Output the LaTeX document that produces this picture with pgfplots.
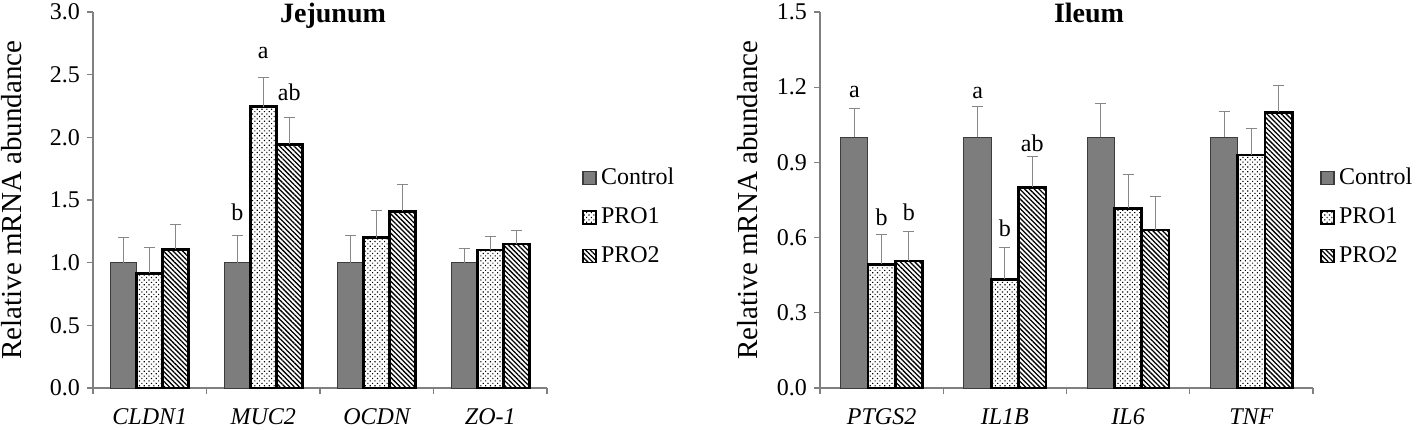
\documentclass[border=0pt]{standalone}
\usepackage{fontspec}
\setmainfont{Liberation Serif}
\usepackage{pgfplots}
\usepackage{pgfplotstable}
\pgfplotsset{compat=1.18}
\usetikzlibrary{patterns.meta}
\definecolor{ctrl}{RGB}{125,125,125}
\definecolor{ctrlborder}{RGB}{60,60,60}
\definecolor{axgray}{RGB}{128,128,128}
\definecolor{errgray}{RGB}{135,135,135}

\pgfplotstableread{
x c ce p pe q qe
0 1.00 0.20 0.915 0.205 1.107 0.200
1 1.00 0.22 2.245 0.230 1.945 0.215
2 1.00 0.22 1.200 0.220 1.410 0.210
3 1.00 0.11 1.100 0.110 1.150 0.110
}\jej

\pgfplotstableread{
x c ce p pe q qe
0 1.00 0.115 0.493 0.120 0.507 0.116
1 1.00 0.125 0.434 0.126 0.800 0.123
2 1.00 0.135 0.717 0.136 0.630 0.135
3 1.00 0.105 0.930 0.105 1.100 0.105
}\ile

\pgfplotsset{
 myaxis/.style={
  scale only axis, height=188pt, ymin=0, clip=false,
  xmin=-0.5, xmax=3.5,
  ybar=0pt,
  axis lines*=left,
  axis line style={axgray, line width=0.6pt},
  xtick={0,1,2,3}, minor xtick={-0.5,0.5,1.5,2.5,3.5},
  major x tick style={draw=none},
  minor x tick style={axgray, line width=0.6pt},
  y tick style={axgray, line width=0.6pt},
  tick align=outside, major tick length=3pt, minor tick length=3pt,
  xticklabel style={font=\fontsize{12}{14}\selectfont\itshape, yshift=-4pt},
  yticklabel style={font=\fontsize{12}{14}\selectfont},
  /pgf/number format/assume math mode=true,
  yticklabel={\pgfmathprintnumber[fixed,fixed zerofill,precision=1]{\tick}},
  ylabel={Relative mRNA abundance},
  legend style={draw=none, fill=none, font=\fontsize{12}{14}\selectfont, anchor=west, row sep=6pt, inner sep=0pt},
  legend cell align=left,
  legend image code/.code={\draw[##1, line width=0.8pt] (0pt,-3.25pt) rectangle (6.5pt,3.25pt);},
  error bars/y dir=plus, error bars/y explicit,
  error bars/error mark=|,
  error bars/error bar style={errgray, line width=0.5pt, solid},
  error bars/error mark options={errgray, line width=0.5pt, mark size=2.75pt, solid},
 },
 ctrlbar/.style={fill=ctrl, draw=ctrlborder, line width=0.5pt},
 p1bar/.style={draw=black, line width=1.3pt, fill=white,
   postaction={pattern={Dots[distance=1.7pt, radius=0.4pt, angle=45]}, pattern color=black}},
 p2bar/.style={draw=black, line width=1.3pt, fill=white,
   postaction={pattern={Lines[angle=-45, distance=1.7pt, line width=0.65pt]}, pattern color=black}},
}

\begin{document}
\begin{tikzpicture}
\useasboundingbox (0,0) rectangle (709pt,214.5pt);
\begin{axis}[myaxis, at={(46.5pt,20.5pt)}, anchor=south west, width=227pt,
  ymax=3, ytick={0,0.5,...,3.01},
  xticklabels={CLDN1,MUC2,OCDN,ZO-1},
  bar width=13pt,
  ylabel style={at={(rel axis cs:-0.1784,0.5)}, anchor=center, font=\fontsize{14.5}{16}\selectfont},
  legend style={at={(1,0.455)}, xshift=17.5pt}]
\addplot[ctrlbar] table[x=x, y=c, y error=ce] {\jej};
\addplot[p1bar] table[x=x, y=p, y error=pe] {\jej};
\addplot[p2bar] table[x=x, y=q, y error=qe] {\jej};
\legend{Control,PRO1,PRO2}
\node[font=\bfseries\fontsize{14}{16}\selectfont, anchor=base] at (axis cs:1.615,2.92) {Jejunum};
\node[font=\fontsize{12}{14}\selectfont] at (axis cs:0.771,1.404) {b};
\node[font=\fontsize{12}{14}\selectfont] at (axis cs:1,2.673) {a};
\node[font=\fontsize{12}{14}\selectfont] at (axis cs:1.229,2.362) {ab};
\end{axis}
\begin{axis}[myaxis, at={(410pt,20.5pt)}, anchor=south west, width=246.5pt,
  ymax=1.5, ytick={0,0.3,...,1.51},
  xticklabels={PTGS2,IL1B,IL6,TNF},
  bar width=13.65pt,
  ylabel style={at={(rel axis cs:-0.146,0.5)}, anchor=center, font=\fontsize{14.5}{16}\selectfont},
  legend style={at={(1,0.455)}, xshift=3.5pt}]
\addplot[ctrlbar] table[x=x, y=c, y error=ce] {\ile};
\addplot[p1bar] table[x=x, y=p, y error=pe] {\ile};
\addplot[p2bar] table[x=x, y=q, y error=qe] {\ile};
\legend{Control,PRO1,PRO2}
\node[font=\bfseries\fontsize{14}{16}\selectfont, anchor=base] at (axis cs:1.683,1.46) {Ileum};
\node[font=\fontsize{12}{14}\selectfont] at (axis cs:-0.2215,1.181) {a};
\node[font=\fontsize{12}{14}\selectfont] at (axis cs:0,0.682) {b};
\node[font=\fontsize{12}{14}\selectfont] at (axis cs:0.2215,0.702) {b};
\node[font=\fontsize{12}{14}\selectfont] at (axis cs:0.7785,1.177) {a};
\node[font=\fontsize{12}{14}\selectfont] at (axis cs:1,0.638) {b};
\node[font=\fontsize{12}{14}\selectfont] at (axis cs:1.2215,0.977) {ab};
\end{axis}
\end{tikzpicture}
\end{document}
